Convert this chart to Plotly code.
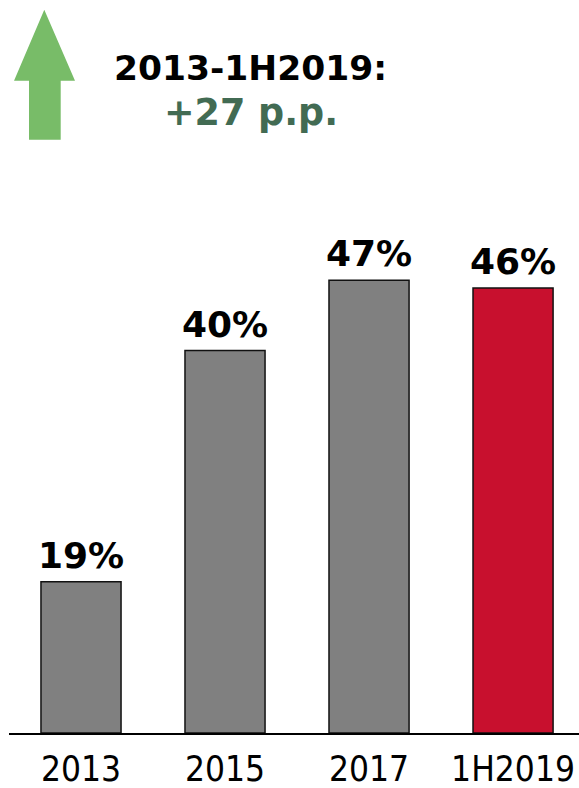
import plotly.graph_objects as go

categories = ["2013", "2015", "2017", "1H2019"]
bar_heights = [15.7, 39.7, 47.0, 46.2]
value_labels = ["19%", "40%", "47%", "46%"]
bar_colors = ["#808080", "#808080", "#808080", "#C8102E"]
headline = "2013-1H2019:"
change_text = "+27 p.p."

W, H = 579, 788
ML, MR, MT, MB = 9, 0, 155.3, 55

def pxx(x):
    return (x - ML) / (W - ML - MR)

def pxy(y):
    return 1 - (y - MT) / (H - MT - MB)

fig = go.Figure()
fig.add_trace(go.Bar(
    x=list(range(len(categories))),
    y=bar_heights,
    width=0.556,
    marker=dict(color=bar_colors, line=dict(color="#111111", width=1.5)),
    hoverinfo="skip",
))

for i, (h, lab) in enumerate(zip(bar_heights, value_labels)):
    fig.add_annotation(
        x=i, y=h, text="<b>" + lab + "</b>", showarrow=False,
        yanchor="bottom", xanchor="center", yshift=4,
        font=dict(family="DejaVu Sans", size=36, color="#000000"),
    )

# header texts
fig.add_annotation(
    x=pxx(250), y=pxy(68), xref="paper", yref="paper",
    text="<b>" + headline + "</b>", showarrow=False,
    xanchor="center", yanchor="middle",
    font=dict(family="DejaVu Sans", size=34.5, color="#000000"),
)
fig.add_annotation(
    x=pxx(251), y=pxy(113), xref="paper", yref="paper",
    text="<b>" + change_text + "</b>", showarrow=False,
    xanchor="center", yanchor="middle",
    font=dict(family="DejaVu Sans", size=36.5, color="#426B53"),
)

# decorative up arrow (paper coordinates converted from pixels)
pts = [(44.3, 10), (75, 81), (60.7, 81), (60.7, 140), (29, 140), (29, 81), (14, 81)]
path = "M " + " L ".join(f"{pxx(x):.4f},{pxy(y):.4f}" for x, y in pts) + " Z"
fig.add_shape(type="path", xref="paper", yref="paper", path=path,
              fillcolor="#78BC68", line=dict(width=0), layer="above")

fig.update_layout(
    width=W, height=H,
    margin=dict(l=ML, r=MR, t=MT, b=MB, pad=0, autoexpand=False),
    paper_bgcolor="white", plot_bgcolor="white",
    showlegend=False,
    bargap=0.444,
    font=dict(family="DejaVu Sans Condensed, DejaVu Sans", color="#000000"),
)
fig.update_xaxes(
    range=[-0.5, 3.458], automargin=False,
    tickmode="array", tickvals=list(range(len(categories))), ticktext=categories,
    tickfont=dict(family="DejaVu Sans Condensed, DejaVu Sans", size=35, color="#000000"),
    showline=True, linecolor="#000000", linewidth=1.5,
    ticks="outside", ticklen=4, tickcolor="rgba(0,0,0,0)",
    showgrid=False, zeroline=False, fixedrange=True,
)
fig.update_yaxes(
    range=[0, 60], visible=False, showgrid=False, zeroline=False, fixedrange=True,
    automargin=False,
)

fig.write_html("out.html", config={"displayModeBar": False})
